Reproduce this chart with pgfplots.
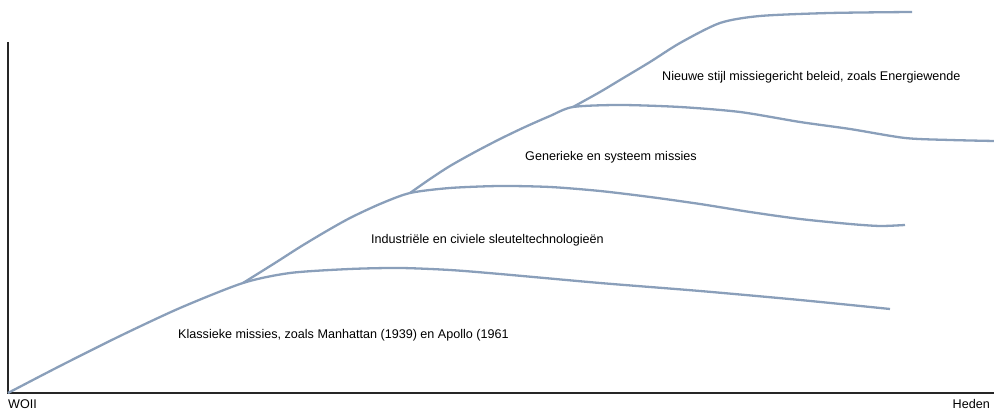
\documentclass[border=0pt]{standalone}
\usepackage{pgfplots}
\pgfplotsset{compat=1.18}
\usepackage{fontspec}
\setmainfont{Liberation Sans}
\definecolor{lc}{HTML}{8A9FBA}
\begin{document}
\begin{tikzpicture}
\begin{axis}[
  scale only axis, width=994pt, height=411pt,
  xmin=0, xmax=994, ymin=-18, ymax=393,
  hide axis, clip=false,
]
\coordinate (bl) at (axis cs:0,-18);
\coordinate (tr) at (axis cs:994,393);
\draw[black!85, line width=1.2pt] (axis cs:8,351) -- (axis cs:8,0) -- (axis cs:994,0);
% curve 1 (393 - py)
\addplot[lc, line width=2.3pt, smooth, tension=0.45] coordinates {
 (8,0) (60,27) (120,57) (180,85) (243,110) (290,120) (350,124) (400,125) (450,123) (500,119) (600,110) (700,102) (800,93) (890,84)};
% curve 2
\addplot[lc, line width=2.3pt, smooth, tension=0.45] coordinates {
 (243,110) (275,130) (300,146) (325,161) (350,175) (380,189) (410,200) (450,205) (500,207) (550,206) (600,202) (650,196) (700,189) (750,181) (800,174) (850,169) (880,167) (905,168)};
% curve 3
\addplot[lc, line width=2.3pt, smooth, tension=0.45] coordinates {
 (410,200) (430,214) (450,227) (475,241) (500,254) (525,266) (550,277) (573,286) (620,288) (680,286) (740,281) (800,271) (850,264) (905,255) (950,253) (994,252)};
% curve 4
\addplot[lc, line width=2.3pt, smooth, tension=0.45] coordinates {
 (573,286) (600,301) (620,313) (650,331) (680,350) (720,370) (760,377) (830,380) (912,381)};
\tikzset{lab/.style={font=\fontsize{12.6}{14}\selectfont, inner sep=0pt}}
\node[anchor=west, lab] at (axis cs:178,58) {Klassieke missies, zoals Manhattan (1939) en Apollo (1961};
\node[anchor=west, lab] at (axis cs:371,153) {Industriële en civiele sleuteltechnologieën};
\node[anchor=west, lab] at (axis cs:525,236) {Generieke en systeem missies};
\node[anchor=west, lab] at (axis cs:662,316) {Nieuwe stijl missiegericht beleid, zoals Energiewende};
\node[anchor=base west, lab] at (axis cs:8,-16) {WOII};
\node[anchor=base east, lab] at (axis cs:990,-16) {Heden};
\end{axis}
\pgfresetboundingbox
\path[use as bounding box] (bl) rectangle (tr);
\end{tikzpicture}
\end{document}
